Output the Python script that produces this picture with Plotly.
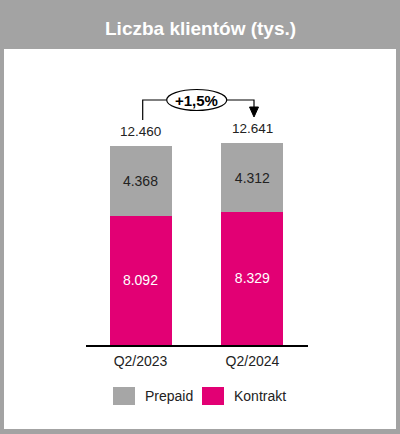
import plotly.graph_objects as go

# ---- data ----
categories = ["Q2/2023", "Q2/2024"]
kontrakt = [8092, 8329]
prepaid = [4368, 4312]
totals = [12460, 12641]
series_names = ["Prepaid", "Kontrakt"]
growth_label = "+1,5%"
title_text = "Liczba klientów (tys.)"

GRAY = "#a6a6a6"
PINK = "#e20074"
BG = "#a3a3a3"
TXT = "#222222"
FONT = "Liberation Sans, Arial, sans-serif"


def fmt(v):
    return f"{v:,}".replace(",", ".")


# plot area in pixels
W, H = 400, 434
L, R, T, B = 86, 308, 60, 345


def px(x):
    return (x - L) / (R - L)


def py(y):
    return (B - y) / (B - T)


fig = go.Figure()
fig.add_trace(go.Bar(
    x=categories, y=kontrakt, name=series_names[1], marker_color=PINK,
    marker_line_width=0, width=0.554,
    text=[fmt(v) for v in kontrakt], textposition="inside",
    insidetextanchor="middle", textangle=0,
    textfont=dict(size=14, color="white", family=FONT), showlegend=False,
))
fig.add_trace(go.Bar(
    x=categories, y=prepaid, name=series_names[0], marker_color=GRAY,
    marker_line_width=0, width=0.554,
    text=[fmt(v) for v in prepaid], textposition="inside",
    insidetextanchor="middle", textangle=0,
    textfont=dict(size=14, color=TXT, family=FONT), showlegend=False,
))

annotations = []
for c, t in zip(categories, totals):
    annotations.append(dict(
        x=c, y=t, xref="x", yref="y", text=fmt(t), showarrow=False,
        yanchor="bottom", yshift=5, font=dict(size=13.5, color=TXT, family=FONT),
    ))

# title
annotations.append(dict(
    x=px(200), y=py(28), xref="paper", yref="paper", text=f"<b>{title_text}</b>",
    showarrow=False, xanchor="center", yanchor="middle",
    font=dict(size=19, color="white", family=FONT),
))
# growth label
annotations.append(dict(
    x=px(196.7), y=py(100), xref="paper", yref="paper", text=f"<b>{growth_label}</b>",
    showarrow=False, xanchor="center", yanchor="middle",
    font=dict(size=15, color="black", family=FONT),
))
# legend texts
for name, lx in zip(series_names, [143, 232]):
    annotations.append(dict(
        x=px(lx), y=py(396), xref="paper", yref="paper", text=name,
        showarrow=False, xanchor="left", yanchor="middle",
        font=dict(size=14, color=TXT, family=FONT),
    ))

shapes = []
# white panel
shapes.append(dict(type="rect", xref="paper", yref="paper",
                   x0=px(4), x1=px(396), y0=py(429), y1=py(49),
                   fillcolor="white", line_width=0, layer="below"))


def path(points):
    return "M " + " L ".join(f"{px(x)},{py(y)}" for x, y in points)


shapes.append(dict(type="path", xref="paper", yref="paper",
                   path=path([(142.7, 120), (142.7, 100), (166.7, 100)]),
                   line=dict(color="black", width=1.2)))
shapes.append(dict(type="path", xref="paper", yref="paper",
                   path=path([(226.7, 100), (254, 100), (254, 108)]),
                   line=dict(color="black", width=1.2)))
shapes.append(dict(type="path", xref="paper", yref="paper",
                   path=path([(249.5, 107), (258.5, 107), (254, 117)]) + " Z",
                   fillcolor="black", line=dict(color="black", width=1)))
shapes.append(dict(type="circle", xref="paper", yref="paper",
                   x0=px(166.7), x1=px(226.7), y0=py(110.5), y1=py(89.5),
                   fillcolor="white", line=dict(color="black", width=1.2)))
# legend swatches
for col, x0 in zip([GRAY, PINK], [113, 202]):
    shapes.append(dict(type="rect", xref="paper", yref="paper",
                       x0=px(x0), x1=px(x0 + 22), y0=py(405), y1=py(387),
                       fillcolor=col, line_width=0))

fig.update_layout(
    width=W, height=H, barmode="stack",
    margin=dict(l=L, r=W - R, t=T, b=H - B, pad=0),
    paper_bgcolor=BG, plot_bgcolor="rgba(0,0,0,0)",
    showlegend=False,
    xaxis=dict(type="category", range=[-0.487, 1.496], showline=True,
               linecolor="black", linewidth=2, showgrid=False, zeroline=False,
               ticks="outside", ticklen=2, tickcolor="rgba(0,0,0,0)",
               tickfont=dict(size=14, color=TXT, family=FONT), fixedrange=True),
    yaxis=dict(visible=False, range=[0, 285 / 0.01597], fixedrange=True),
    annotations=annotations, shapes=shapes,
    font=dict(family=FONT),
)

fig.write_html(
    "out.html",
    config={"displayModeBar": False},
    post_script="document.body.style.margin='0';document.body.style.overflow='hidden';",
)
